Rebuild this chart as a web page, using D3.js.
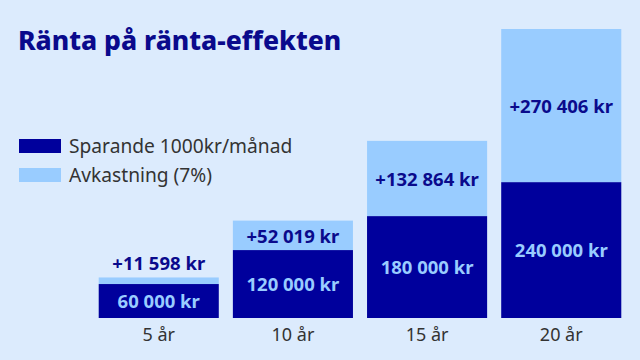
<!DOCTYPE html>
<html><head><meta charset="utf-8">
<script src="https://cdn.jsdelivr.net/npm/d3@7"></script>
<style>body{margin:0;background:#dcebfd}svg{display:block}text{font-family:"Noto Sans",sans-serif}</style>
</head><body><svg id="c" width="640" height="360"></svg>
<script>
const categories = ["5 år","10 år","15 år","20 år"];
const savings = [60000,120000,180000,240000];
const returns = [11598,52019,132864,270406];
const seriesNames = ["Sparande 1000kr/månad","Avkastning (7%)"];
const title = "Ränta på ränta-effekten";

const dark = "#00009c", light = "#99ccff", textDark = "#0a0a8c";
const svg = d3.select("#c");
svg.append("rect").attr("width",640).attr("height",360).attr("fill","#dcebfd");

const x = d3.scaleBand().domain(categories).range([92,628]).paddingInner(0.105).paddingOuter(0.05);
const y = d3.scaleLinear().domain([0,510406]).range([318,29]);
const fmt = v => d3.format(",")(v).replace(/,/g," ") + " kr";

const data = categories.map((c,i)=>({c, s:savings[i], r:returns[i]}));
const g = svg.append("g");
g.selectAll(".d").data(data).join("rect").attr("x",d=>x(d.c)).attr("width",x.bandwidth())
  .attr("y",d=>y(d.s)).attr("height",d=>y(0)-y(d.s)).attr("fill",dark);
g.selectAll(".l").data(data).join("rect").attr("x",d=>x(d.c)).attr("width",x.bandwidth())
  .attr("y",d=>y(d.s+d.r)).attr("height",d=>y(d.s)-y(d.s+d.r)).attr("fill",light);

g.selectAll(".dt").data(data).join("text").attr("x",d=>x(d.c)+x.bandwidth()/2)
  .attr("y",d=>(y(0)+y(d.s))/2).attr("dy","0.36em").attr("text-anchor","middle")
  .attr("font-size",18.5).attr("font-weight",700).attr("fill",light).text(d=>fmt(d.s));
g.selectAll(".lt").data(data).join("text").attr("x",d=>x(d.c)+x.bandwidth()/2)
  .attr("y",d=>{const h=y(d.s)-y(d.s+d.r);return h<22? y(d.s+d.r)-14 : (y(d.s)+y(d.s+d.r))/2+1;})
  .attr("dy","0.36em").attr("text-anchor","middle")
  .attr("font-size",18.5).attr("font-weight",700).attr("fill",textDark).text(d=>"+"+fmt(d.r));

const ax = svg.append("g").attr("transform","translate(0,318)").call(d3.axisBottom(x).tickSize(0).tickPadding(10));
ax.select(".domain").remove();
ax.selectAll("text").attr("font-size",18).attr("fill","#333").attr("font-family","Noto Sans, sans-serif");

svg.append("text").attr("x",18).attr("y",50).attr("font-size",26.5).attr("font-weight",800)
  .attr("fill",textDark).text(title);

const lg = svg.append("g");
[dark,light].forEach((col,i)=>{
  lg.append("rect").attr("x",19).attr("y",139+i*29).attr("width",42).attr("height",14).attr("fill",col);
  lg.append("text").attr("x",69).attr("y",152.5+i*29).attr("font-size",19.2).attr("fill","#333").text(seriesNames[i]);
});
</script></body></html>
